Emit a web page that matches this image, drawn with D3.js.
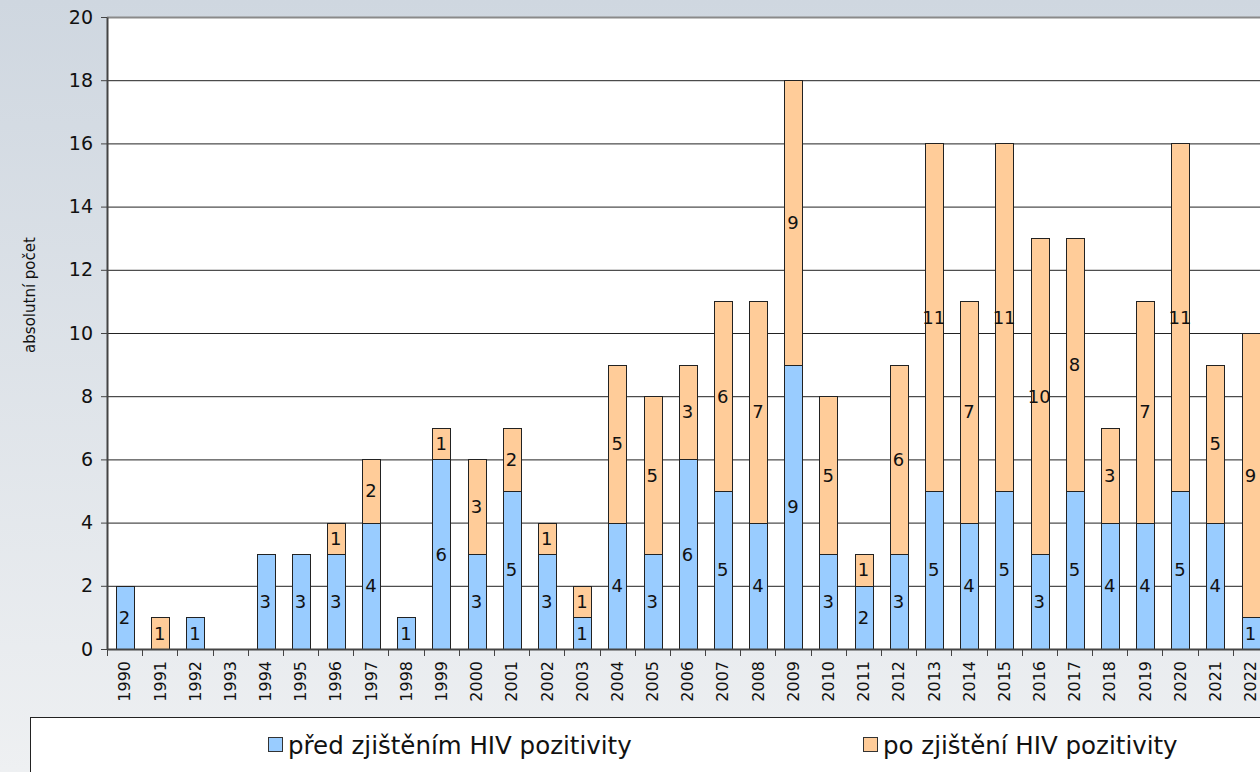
<!DOCTYPE html>
<html>
<head>
<meta charset="utf-8">
<script src="https://cdn.jsdelivr.net/npm/d3@7"></script>
<style>
  html, body { margin: 0; padding: 0; overflow: hidden; }
  body { width: 1260px; height: 772px; }
  text { font-family: "DejaVu Sans", Verdana, sans-serif; fill: #111; }
</style>
</head>
<body>
<div id="chart"></div>
<script>
var years = d3.range(1990, 2023).map(String);
var before = [2,0,1,0,3,3,3,4,1,6,3,5,3,1,4,3,6,5,4,9,3,2,3,5,4,5,3,5,4,4,5,4,1];
var after  = [0,1,0,0,0,0,1,2,0,1,3,2,1,1,5,5,3,6,7,9,5,1,6,11,7,11,10,8,3,7,11,5,9];
var yTicks = d3.range(0, 21, 2);
var seriesNames = ["před zjištěním HIV pozitivity", "po zjištění HIV pozitivity"];
var colors = ["#99ccff", "#ffcc99"];

var width = 1260,
    height = 772,
    margin = {top: 17, right: -8, bottom: 123, left: 107};

var innerW = width - margin.left - margin.right,
    innerH = height - margin.top - margin.bottom;

var rows = years.map((y, i) => ({year: y, before: before[i], after: after[i]}));
var stack = d3.stack().keys(["before", "after"])(rows);

var svg = d3.select("#chart").append("svg")
    .attr("width", width)
    .attr("height", height);

var grad = svg.append("defs").append("linearGradient")
    .attr("id", "bg").attr("x1", 0).attr("y1", 0).attr("x2", 0).attr("y2", 1);
grad.append("stop").attr("offset", "0%").attr("stop-color", "#cfd7e0");
grad.append("stop").attr("offset", "100%").attr("stop-color", "#eef0f2");

svg.append("rect").attr("width", width).attr("height", height).attr("fill", "url(#bg)");

var g = svg.append("g").attr("transform", `translate(${margin.left},${margin.top})`);

var x = d3.scaleBand().domain(years).range([0, innerW]).paddingInner(0.5).paddingOuter(0.25);
var y = d3.scaleLinear().domain([0, 20]).range([innerH, 0]);

// plot area
g.append("rect").attr("width", innerW).attr("height", innerH).attr("fill", "#fff");

// gridlines
g.selectAll(".grid").data(yTicks.filter(d => d > 0))
    .enter().append("line")
    .attr("x1", 0).attr("x2", innerW)
    .attr("y1", d => y(d) + 0.5).attr("y2", d => y(d) + 0.5)
    .attr("stroke", d => d === 20 ? "#8a8a8a" : "#222")
    .attr("stroke-width", d => d === 20 ? 2 : 1);

// bars
var layer = g.selectAll(".layer").data(stack)
    .enter().append("g")
    .attr("fill", (d, i) => colors[i]);

layer.selectAll("rect")
    .data(d => d.filter(p => p[1] - p[0] > 0))
    .enter().append("rect")
    .attr("x", d => Math.round(x(d.data.year)) + 0.5)
    .attr("y", d => Math.round(y(d[1])) + 0.5)
    .attr("width", Math.round(x.bandwidth()))
    .attr("height", d => Math.round(y(d[0])) - Math.round(y(d[1])))
    .attr("stroke", "#222")
    .attr("stroke-width", 1);

// value labels
layer.selectAll("text")
    .data(d => d.filter(p => p[1] - p[0] > 0))
    .enter().append("text")
    .attr("x", d => x(d.data.year) + x.bandwidth() / 2)
    .attr("y", d => y((d[0] + d[1]) / 2))
    .attr("dy", "0.36em")
    .attr("text-anchor", "middle")
    .style("font-size", "18px")
    .style("fill", "#111")
    .text(d => d[1] - d[0]);

// axes
var yAxis = d3.axisLeft(y).tickValues(yTicks).tickSize(6).tickSizeOuter(0).tickPadding(8);
var yG = g.append("g").call(yAxis);
yG.select(".domain").attr("stroke", "#444").attr("stroke-width", 2);
yG.selectAll(".tick line").attr("stroke", "#444");
yG.selectAll("text").style("font-size", "19px").style("font-family", "'DejaVu Sans', sans-serif");

var xG = g.append("g").attr("transform", `translate(0,${innerH})`);
xG.append("line").attr("x1", 0).attr("x2", innerW).attr("y1", 0.5).attr("y2", 0.5)
    .attr("stroke", "#444").attr("stroke-width", 2);
xG.selectAll(".xtick").data(years)
    .enter().append("line")
    .attr("x1", d => Math.round(x(d) - x.step() * 0.25) + 0.5)
    .attr("x2", d => Math.round(x(d) - x.step() * 0.25) + 0.5)
    .attr("y1", 0).attr("y2", 7)
    .attr("stroke", "#444");
xG.selectAll(".xlab").data(years)
    .enter().append("text")
    .attr("transform", d => `translate(${x(d) + x.bandwidth() / 2},12) rotate(-90)`)
    .attr("text-anchor", "end")
    .attr("dy", "0.36em")
    .style("font-size", "16px")
    .text(d => d);

// y title
svg.append("text")
    .attr("transform", "translate(30,295) rotate(-90)")
    .attr("text-anchor", "middle")
    .attr("dy", "0.36em")
    .style("font-size", "15px")
    .text("absolutní počet");

// legend
svg.append("rect")
    .attr("x", 30.5).attr("y", 717.5)
    .attr("width", 1260).attr("height", 80)
    .attr("fill", "#fff").attr("stroke", "#222");

var legX = [268, 863];
var leg = svg.selectAll(".leg").data(seriesNames)
    .enter().append("g")
    .attr("transform", (d, i) => `translate(${legX[i]},745)`);
leg.append("rect")
    .attr("x", 0.5).attr("y", -7.5).attr("width", 14).attr("height", 14)
    .attr("fill", (d, i) => colors[i]).attr("stroke", "#333");
leg.append("text")
    .attr("x", 20).attr("dy", "0.36em")
    .style("font-size", "24.5px")
    .text(d => d);
</script>
</body>
</html>
